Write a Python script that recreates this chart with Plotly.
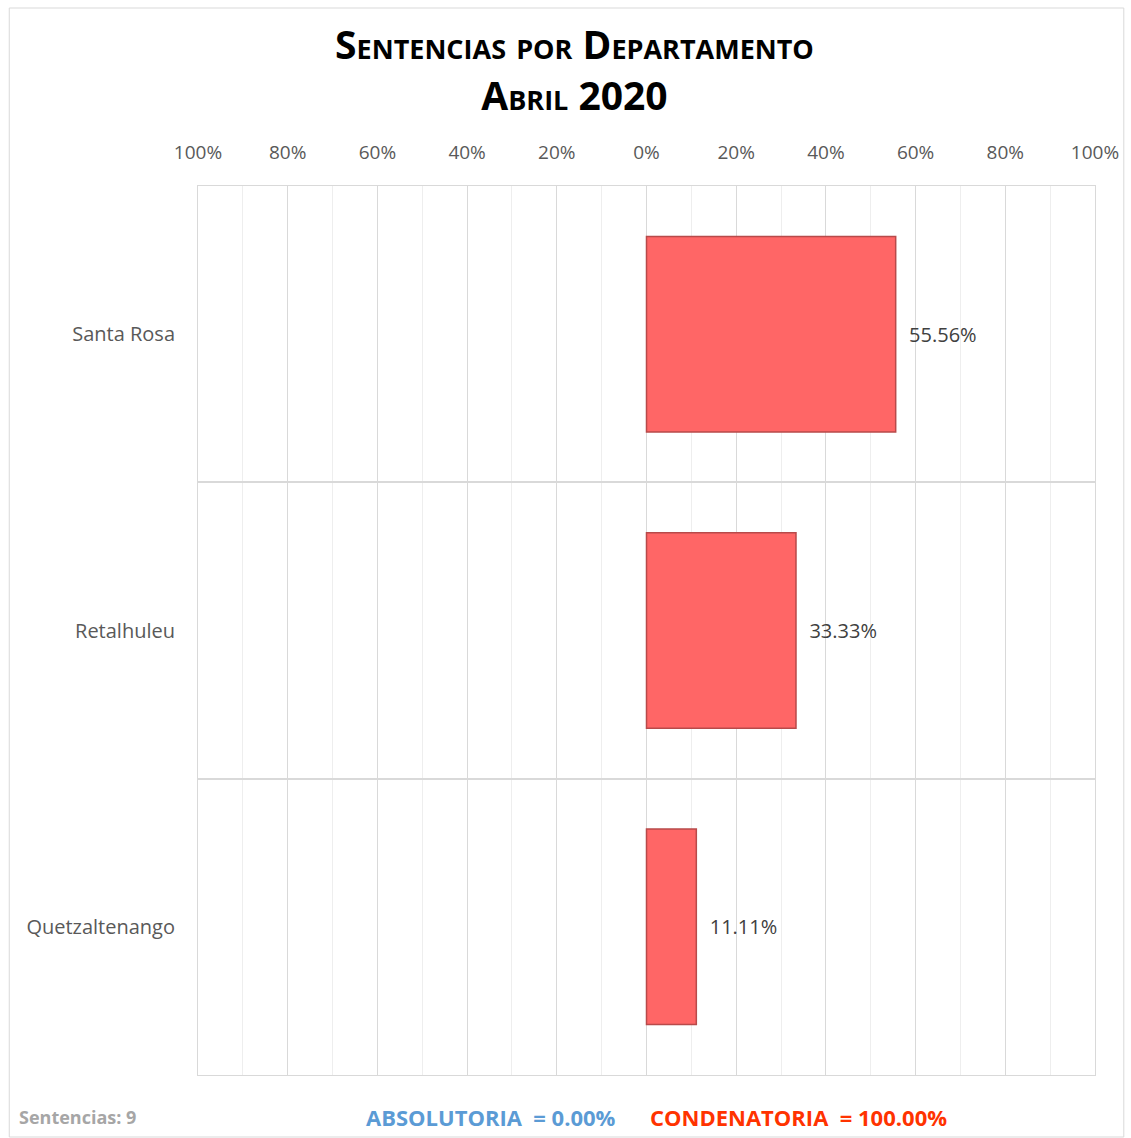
import plotly.graph_objects as go

departamentos = ["Santa Rosa", "Retalhuleu", "Quetzaltenango"]
condenatoria = [55.56, 33.33, 11.11]
absolutoria = [0.0, 0.0, 0.0]
tick_vals = [-100, -80, -60, -40, -20, 0, 20, 40, 60, 80, 100]
tick_text = ["100%", "80%", "60%", "40%", "20%", "0%", "20%", "40%", "60%", "80%", "100%"]
total_sentencias = 9
pct_absolutoria = 0.00
pct_condenatoria = 100.00

W, H = 1131, 1138
ML, MR, MT, MB = 198, 30, 186, 63
pw, ph = W - ML - MR, H - MT - MB

ypos = list(range(len(departamentos)))
font_family = "Open Sans, Noto Sans, sans-serif"

fig = go.Figure()
fig.add_trace(go.Bar(
    y=ypos, x=[-v for v in absolutoria], orientation="h", width=0.66,
    marker=dict(color="#5B9BD5", line=dict(color="#41719C", width=1)),
    name="Absolutoria", hoverinfo="skip",
))
fig.add_trace(go.Bar(
    y=ypos, x=condenatoria, orientation="h", width=0.66,
    marker=dict(color="#FF6666", line=dict(color="#B84A4A", width=1.5)),
    text=[f"&nbsp;&nbsp;{v:.2f}%" for v in condenatoria], textposition="outside",
    textfont=dict(family=font_family, size=20, color="#404040"),
    cliponaxis=False, name="Condenatoria",
))

fig.update_layout(
    width=W, height=H, barmode="overlay", showlegend=False,
    plot_bgcolor="white", paper_bgcolor="white",
    margin=dict(l=ML, r=MR, t=MT, b=MB),
    font=dict(family=font_family, color="#595959"),
    title=dict(
        text=("<b>Sentencias por Departamento</b><br><b>Abril 2020</b>"),
        x=(577 - ML) / pw, xanchor="center", xref="paper", y=1 - 59 / H, yanchor="top",
        font=dict(family="Open Sans, sans-serif", size=39, color="#000000", variant="small-caps"),
    ),
    xaxis=dict(
        range=[-100, 100], side="top", tickmode="array", tickvals=tick_vals, ticktext=tick_text,
        showgrid=True, gridcolor="#D9D9D9", gridwidth=1, zeroline=False,
        minor=dict(dtick=10, tick0=0, showgrid=True, gridcolor="#EEEEEE", gridwidth=1),
        showline=True, linecolor="#D9D9D9", mirror=True, ticks="", ticklabelstandoff=18,
        tickfont=dict(family=font_family, size=19, color="#595959"),
        fixedrange=True,
    ),
    yaxis=dict(
        range=[len(departamentos) - 0.5, -0.5], tickmode="array", tickvals=ypos,
        ticktext=departamentos, showgrid=False, zeroline=False,
        minor=dict(tickmode="linear", tick0=-0.5, dtick=1, showgrid=True, gridcolor="#D9D9D9", gridwidth=1.5),
        showline=True, linecolor="#D9D9D9", mirror=True, ticks="", ticklabelstandoff=18,
        tickfont=dict(family=font_family, size=20, color="#595959"),
    ),
)

# outer chart frame
fig.add_shape(type="rect", xref="paper", yref="paper",
              x0=(8 - ML) / pw, x1=(W - 1 - ML) / pw,
              y0=-(H - 1 - MT - ph) / ph, y1=1 + (MT - 8) / ph,
              line=dict(color="#D9D9D9", width=1), layer="below")

ybot = -(1117 - MT - ph) / ph
fig.add_annotation(text=f"<b>Sentencias: {total_sentencias}</b>", xref="paper", yref="paper",
                   x=(16 - ML) / pw, y=ybot, xanchor="left", yanchor="middle",
                   showarrow=False, font=dict(family=font_family, size=18, color="#A6A6A6"))
fig.add_annotation(text=f"<b>ABSOLUTORIA  = {pct_absolutoria:.2f}%</b>", xref="paper", yref="paper",
                   x=(621 - ML) / pw, y=ybot, xanchor="right", yanchor="middle",
                   showarrow=False, font=dict(family=font_family, size=22, color="#5B9BD5"))
fig.add_annotation(text=f"<b>CONDENATORIA  = {pct_condenatoria:.2f}%</b>", xref="paper", yref="paper",
                   x=(651 - ML) / pw, y=ybot, xanchor="left", yanchor="middle",
                   showarrow=False, font=dict(family=font_family, size=22, color="#FF3300"))

fig.write_html("out.html", config={"displayModeBar": False},
               post_script="document.body.style.margin='0';document.body.style.overflow='hidden';")
